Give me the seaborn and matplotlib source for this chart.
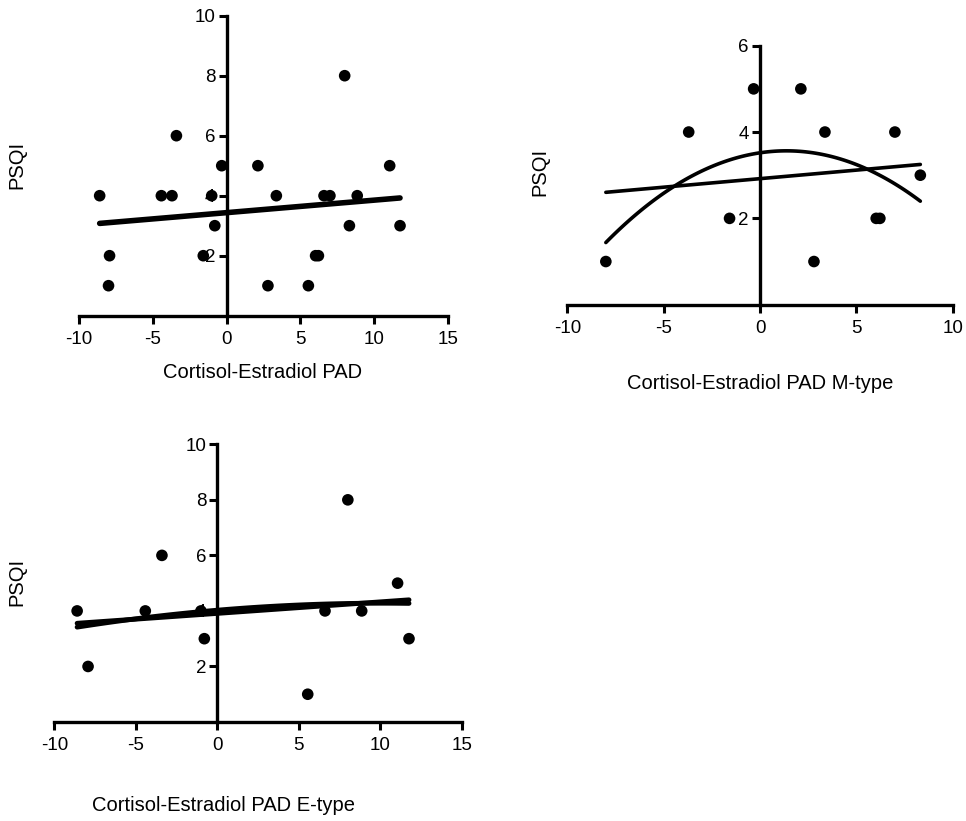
import matplotlib
matplotlib.use("Agg")
import matplotlib.pyplot as plt
import numpy as np
import pandas as pd
import seaborn as sns

# data
m_pad = [-8.0, -3.7, -1.58, -0.33, 2.12, 2.8, 3.37, 6.03, 6.22, 7.0, 8.32]
m_psqi = [1, 4, 2, 5, 5, 1, 4, 2, 2, 4, 3]
e_pad = [-8.6, -7.93, -4.42, -3.4, -1.01, -0.8, 5.54, 6.6, 8.0, 8.85, 11.05, 11.75]
e_psqi = [4, 2, 4, 6, 4, 3, 1, 4, 8, 4, 5, 3]
all_pad = m_pad + e_pad
all_psqi = m_psqi + e_psqi

x_ticks_wide = [-10, -5, 0, 5, 10, 15]
x_ticks_m = [-10, -5, 0, 5, 10]
y_ticks_wide = [2, 4, 6, 8, 10]
y_ticks_m = [2, 4, 6]

sns.set_style("ticks")
plt.rcParams['font.family'] = ['Liberation Sans', 'DejaVu Sans']
plt.rcParams['axes.unicode_minus'] = False
for k in ['text.color', 'axes.edgecolor', 'axes.labelcolor', 'xtick.color', 'ytick.color']:
    plt.rcParams[k] = 'black'

W, H = 966, 821
fig = plt.figure(figsize=(W / 100, H / 100), dpi=100)


def rect(left, top, right, bottom):
    return [left / W, 1 - bottom / H, (right - left) / W, (bottom - top) / H]


def style(ax, xlim, ylim, xt, yt):
    ax.set_xlim(*xlim)
    ax.set_ylim(*ylim)
    ax.set_xticks(xt)
    ax.set_yticks(yt)
    ax.spines['top'].set_visible(False)
    ax.spines['right'].set_visible(False)
    ax.spines['left'].set_position(('data', 0))
    ax.spines['bottom'].set_position(('data', 0))
    for s in ['left', 'bottom']:
        ax.spines[s].set_linewidth(2.4)
        ax.spines[s].set_color('black')
    ax.tick_params(direction='out', length=6, width=2.2, labelsize=13.5,
                   pad=2, colors='black')
    ax.tick_params(axis='x', pad=5)
    ax.set_xlabel('')
    ax.set_ylabel('')
    ax.patch.set_alpha(0)


def panel(ax, x, y, orders, lw):
    sns.scatterplot(x=x, y=y, color='black', s=70, edgecolor='none',
                    zorder=3, clip_on=False, ax=ax)
    for o in orders:
        sns.regplot(x=np.array(x), y=np.array(y), scatter=False, ci=None,
                    order=o, color='black', truncate=True,
                    line_kws={'lw': lw, 'zorder': 4}, ax=ax)


# all subjects
ax1 = fig.add_axes(rect(79, 15.7, 448, 315.7))
panel(ax1, all_pad, all_psqi, [1], 4)
style(ax1, (-10, 15), (0, 10), x_ticks_wide, y_ticks_wide)

# M-type
ax2 = fig.add_axes(rect(567.3, 45.7, 952.7, 304.7))
panel(ax2, m_pad, m_psqi, [1, 2], 2.6)
style(ax2, (-10, 10), (0, 6), x_ticks_m, y_ticks_m)

# E-type
ax3 = fig.add_axes(rect(54.3, 444.3, 462, 722))
panel(ax3, e_pad, e_psqi, [1, 2], 3.5)
style(ax3, (-10, 15), (0, 10), x_ticks_wide, y_ticks_wide)


def label(px, py, txt, rot=0):
    fig.text(px / W, 1 - py / H, txt, ha='center', va='center',
             rotation=rot, fontsize=14.5, color='black')


label(263, 372, 'Cortisol-Estradiol PAD')
label(17, 165, 'PSQI', 90)
label(760, 383, 'Cortisol-Estradiol PAD M-type')
label(540, 172, 'PSQI', 90)
label(223, 805, 'Cortisol-Estradiol PAD E-type')
label(17, 582, 'PSQI', 90)

fig.savefig('out.png', dpi=100)
